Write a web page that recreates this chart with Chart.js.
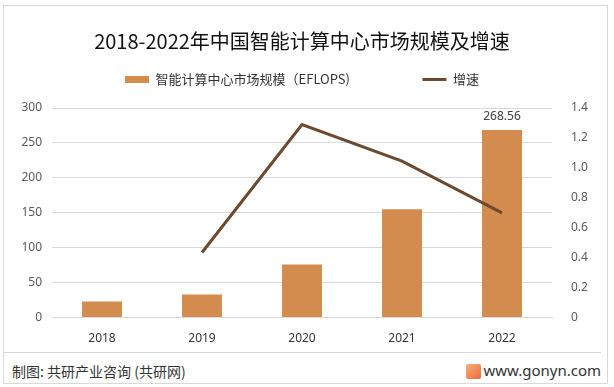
<!DOCTYPE html>
<html>
<head>
<meta charset="utf-8">
<script src="https://cdn.jsdelivr.net/npm/chart.js@4.4.0/dist/chart.umd.min.js"></script>
<style>
  body { margin: 0; background: #fff; }
  #wrap { position: relative; width: 614px; height: 387px; }
  #frame { position: absolute; left: 3px; top: 5px; width: 605px; height: 379px; border: 1px solid #d9d9d9; box-sizing: border-box; }
  #chart-box { position: absolute; left: 0; top: 0; width: 614px; height: 354px; }
  #sep { position: absolute; left: 4px; top: 352px; width: 597px; height: 1px; background: #d6d6d6; z-index: 2; }
  #src { position: absolute; left: 12px; top: 361px; font: 14px "Noto Sans CJK SC", sans-serif; color: #333; }
  #site { position: absolute; right: 13px; top: 360px; font: 15px "Noto Sans", sans-serif; color: #333; }
  #logo { position: absolute; left: 466px; top: 364px; width: 15px; height: 15px; background: linear-gradient(135deg, #f7b07a, #ee6a3a); border-radius: 2px; }
</style>
</head>
<body>
<div id="wrap">
  <div id="frame"></div>
  <div id="chart-box"><canvas id="chart"></canvas></div>
  <div id="sep"></div>
  <div id="src">制图: 共研产业咨询 (共研网)</div>
  <div id="logo"></div>
  <div id="site">www.gonyn.com</div>
</div>
<script>
const years = ["2018", "2019", "2020", "2021", "2022"];
const scaleValues = [23, 33, 76, 155, 268.56];
const growthValues = [null, 0.435, 1.29, 1.045, 0.70];
const leftTicks = [0, 50, 100, 150, 200, 250, 300];
const rightTicks = [0, 0.2, 0.4, 0.6, 0.8, 1, 1.2, 1.4];

// value label over the last bar
const barLabel = {
  id: "barLabel",
  afterDatasetsDraw(chart) {
    const meta = chart.getDatasetMeta(1);
    const last = meta.data[meta.data.length - 1];
    const ctx = chart.ctx;
    ctx.save();
    ctx.font = "12px 'Noto Sans', sans-serif";
    ctx.fillStyle = "#404040";
    ctx.textAlign = "center";
    ctx.textBaseline = "middle";
    ctx.fillText(String(scaleValues[scaleValues.length - 1]), last.x, last.y - 13);
    ctx.restore();
  },
};

// leave more room under the legend
const legendGap = {
  id: "legendGap",
  beforeLayout(chart) {
    const lg = chart.legend;
    if (lg && !lg._gapPatched) {
      const fit = lg.fit.bind(lg);
      lg.fit = function () {
        fit();
        this.height += 12;
      };
      lg._gapPatched = true;
    }
  },
};

const chart = new Chart(document.getElementById("chart"), {
  data: {
    labels: years,
    datasets: [
      {
        type: "line",
        label: "增速",
        data: growthValues,
        yAxisID: "y1",
        borderColor: "#6b4a30",
        backgroundColor: "#6b4a30",
        borderWidth: 3,
        pointRadius: 0,
        tension: 0,
        order: 0,
      },
      {
        type: "bar",
        label: "智能计算中心市场规模（EFLOPS)\u2003\u2003\u2003\u2003\u2002",
        data: scaleValues,
        yAxisID: "y",
        backgroundColor: "#d48b4e",
        categoryPercentage: 1,
        barPercentage: 0.4,
        order: 1,
      },
    ],
  },
  options: {
    responsive: true,
    maintainAspectRatio: false,
    animation: false,
    layout: { padding: { top: 29, left: 10, right: 12, bottom: 2 } },
    plugins: {
      title: {
        display: true,
        fullSize: false,
        text: "2018-2022年中国智能计算中心市场规模及增速",
        color: "#111",
        font: { family: "'Noto Sans CJK SC'", size: 20, weight: "normal" },
        padding: { top: 0, bottom: 6 },
      },
      legend: {
        reverse: true,
        fullSize: false,
        labels: {
          color: "#333",
          font: { family: "'Noto Sans CJK SC'", size: 13 },
          usePointStyle: true,
          pointStyleWidth: 24,
          boxHeight: 7,
          padding: 14,
          generateLabels(chart) {
            const items = Chart.defaults.plugins.legend.labels.generateLabels(chart);
            items.forEach((it) => {
              it.pointStyle = it.datasetIndex === 0 ? "line" : "rect";
            });
            return items;
          },
        },
      },
      tooltip: { enabled: false },
    },
    scales: {
      x: {
        grid: { display: false },
        border: { display: true, color: "#d9d9d9" },
        ticks: { color: "#333", font: { family: "'Noto Sans'", size: 12 }, padding: 6 },
      },
      y: {
        position: "left",
        min: 0,
        max: 300,
        afterBuildTicks(scale) { scale.ticks = leftTicks.map((v) => ({ value: v })); },
        afterFit(scale) { scale.width = 42; },
        grid: { color: "#d9d9d9", drawTicks: false },
        border: { display: false },
        ticks: { color: "#595959", font: { family: "'Noto Sans'", size: 12 }, padding: 10 },
      },
      y1: {
        position: "right",
        min: 0,
        max: 1.4,
        afterBuildTicks(scale) { scale.ticks = rightTicks.map((v) => ({ value: v })); },
        afterFit(scale) { scale.width = 50; },
        grid: { display: false },
        border: { display: false },
        ticks: { color: "#595959", font: { family: "'Noto Sans'", size: 12 }, padding: 11 },
      },
    },
  },
  plugins: [barLabel, legendGap],
});
</script>
</body>
</html>
